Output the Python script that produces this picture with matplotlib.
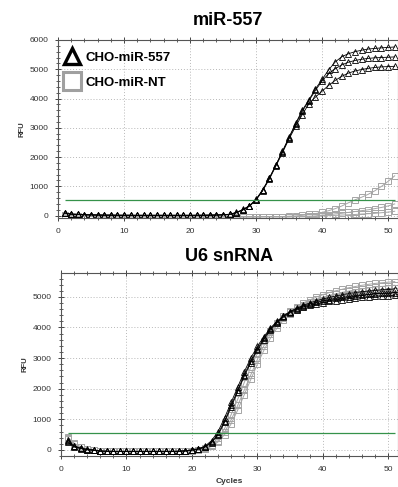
import matplotlib
matplotlib.use("Agg")
import matplotlib.pyplot as plt
from matplotlib.lines import Line2D
from matplotlib.ticker import MultipleLocator

plt.rcParams['font.family'] = ['Liberation Sans', 'DejaVu Sans']

cycles = list(range(1, 52))
threshold = 550

# miR-557 panel, cycles 1-51
base_tri = [90, 50, 40, 30, 25, 20, 15, 15, 10, 10, 10, 5, 5, 5, 5, 5, 5, 5, 5, 5, 10, 10, 15, 20, 30]
mir_tri_a = base_tri + [50, 110, 210, 340, 560, 880, 1280, 1730, 2200, 2680, 3150, 3600, 3950, 4330,
                        4650, 4980, 5250, 5430, 5530, 5600, 5650, 5690, 5710, 5730, 5745, 5760]
mir_tri_b = base_tri + [45, 100, 200, 330, 550, 870, 1270, 1720, 2180, 2660, 3120, 3560, 3920, 4280,
                        4600, 4850, 5020, 5150, 5240, 5300, 5340, 5370, 5390, 5400, 5410, 5420]
mir_tri_c = base_tri + [40, 95, 190, 320, 530, 850, 1240, 1690, 2150, 2620, 3050, 3450, 3820, 4050,
                        4250, 4450, 4620, 4760, 4870, 4940, 4990, 5030, 5060, 5080, 5090, 5100]

base_sq = [20, 0, -20, -30, -30, -40, -40, -40, -40, -40, -40, -40, -40, -40, -40, -40, -40, -40,
           -40, -40, -40, -40, -40, -40, -40, -40, -40, -40, -40, -40]
mir_sq_a = base_sq + [-30, -30, -30, -30, -20, -10, 10, 40, 70, 110, 170, 240, 330, 440,
                      540, 630, 730, 850, 1000, 1170, 1360]
mir_sq_b = base_sq + [-40, -40, -40, -40, -40, -30, -30, -20, -10, 20, 30, 60, 80, 110,
                      140, 170, 200, 240, 280, 330, 400]
mir_sq_c = base_sq + [-40, -40, -40, -40, -40, -40, -40, -40, -30, -10, 0, 10, 20, 30,
                      40, 55, 65, 80, 100, 120, 150]

# U6 snRNA panel, cycles 1-51
u6_tri_1 = [330, 130, 60, 20, 0, -40, -45, -50, -50, -50, -50, -50, -50, -50, -50, -50, -50, -45,
            -30, 0, 40, 120, 300, 600, 1050, 1550, 2050, 2550, 3000, 3380, 3700, 3980, 4200, 4380,
            4520, 4630, 4720, 4800, 4870, 4930, 4980, 5030, 5070, 5110, 5140, 5170, 5190, 5210,
            5230, 5240, 5260]
u6_tri_2 = [280, 110, 50, 10, -10, -40, -45, -50, -50, -50, -50, -50, -50, -50, -50, -50, -50, -45,
            -30, -5, 30, 100, 260, 520, 950, 1450, 1950, 2450, 2900, 3300, 3650, 3950, 4180, 4370,
            4510, 4610, 4690, 4760, 4820, 4870, 4910, 4950, 4980, 5010, 5040, 5060, 5080, 5100,
            5120, 5130, 5140]
u6_tri_3 = [250, 100, 40, 0, -20, -40, -45, -50, -50, -50, -50, -50, -50, -50, -50, -50, -50, -45,
            -35, -10, 20, 90, 240, 480, 900, 1400, 1900, 2400, 2850, 3250, 3600, 3920, 4150, 4340,
            4480, 4580, 4660, 4720, 4770, 4810, 4850, 4880, 4910, 4940, 4960, 4980, 5000, 5020,
            5030, 5040, 5050]
u6_sq_1 = [420, 220, 100, 40, 0, -40, -50, -50, -50, -50, -50, -50, -50, -50, -50, -50, -50, -50,
           -45, -30, 0, 60, 170, 380, 700, 1150, 1650, 2200, 2700, 3150, 3550, 3880, 4150, 4370,
           4540, 4680, 4800, 4900, 4990, 5070, 5140, 5200, 5250, 5300, 5340, 5380, 5410, 5440,
           5460, 5480, 5500]
u6_sq_2 = [380, 200, 90, 30, -10, -40, -50, -50, -50, -50, -50, -50, -50, -50, -50, -50, -50, -50,
           -45, -35, -10, 40, 130, 300, 580, 980, 1450, 1950, 2450, 2950, 3400, 3780, 4080, 4320,
           4500, 4640, 4750, 4840, 4920, 4990, 5050, 5100, 5150, 5190, 5230, 5260, 5290, 5320,
           5340, 5360, 5380]
u6_sq_3 = [350, 180, 80, 20, -10, -40, -50, -50, -50, -50, -50, -50, -50, -50, -50, -50, -50, -50,
           -45, -35, -15, 30, 110, 260, 500, 850, 1300, 1800, 2300, 2800, 3250, 3650, 3980, 4240,
           4430, 4570, 4680, 4770, 4840, 4900, 4950, 4990, 5030, 5060, 5090, 5110, 5130, 5150,
           5170, 5180, 5190]

tri_color = 'black'
sq_color = '#a5a5a5'
green = '#35924a'

fig = plt.figure(figsize=(3.98, 4.87), dpi=100)
ax1 = fig.add_axes([0.1457, 0.5524, 0.8543, 0.3656])
ax2 = fig.add_axes([0.1533, 0.0637, 0.8467, 0.3757])


def style_axis(ax, ylim):
    ax.set_xlim(0, 51.5)
    ax.set_ylim(*ylim)
    ax.xaxis.set_major_locator(MultipleLocator(10))
    ax.xaxis.set_minor_locator(MultipleLocator(2))
    ax.yaxis.set_major_locator(MultipleLocator(1000))
    ax.yaxis.set_minor_locator(MultipleLocator(200))
    ax.grid(True, which='major', color='#b8b8b8', linestyle=(0, (1, 2)), linewidth=0.7)
    ax.tick_params(which='both', direction='inout', top=True, labelsize=6, colors='#444',
                   labelcolor='#333', pad=5)
    ax.tick_params(which='major', length=4, width=0.7)
    ax.tick_params(which='minor', length=2.5, width=0.6)
    for s in ax.spines.values():
        s.set_color('#555')
        s.set_linewidth(0.8)
    ax.set_ylabel('RFU', fontsize=5.5, fontweight='bold', color='#333', labelpad=3)


for y in [mir_sq_a, mir_sq_b, mir_sq_c]:
    ax1.plot(cycles, y, color=sq_color, lw=0.7, marker='s', ms=4.2, mfc='none', mec=sq_color, mew=0.7)
for y in [mir_tri_a, mir_tri_b, mir_tri_c]:
    ax1.plot(cycles, y, color=tri_color, lw=0.6, marker='^', ms=3.8, mfc='none', mec=tri_color, mew=0.6)
ax1.hlines(threshold, 1, 51, color=green, lw=0.9, zorder=5)
style_axis(ax1, (-80, 6000))
ax1.set_title('miR-557', fontsize=13, fontweight='bold', pad=11)

handles = [Line2D([], [], linestyle='none', marker='^', ms=12, mfc='none', mec='black', mew=2.4),
           Line2D([], [], linestyle='none', marker='s', ms=13, mfc='none', mec='#a0a0a0', mew=2.2)]
leg = ax1.legend(handles, ['CHO-miR-557', 'CHO-miR-NT'], loc='upper left', frameon=False,
                 prop={'size': 9.5, 'weight': 'bold'}, handlelength=1.0, handletextpad=0.5,
                 labelspacing=0.95, borderaxespad=0.3, bbox_to_anchor=(-0.005, 0.985))

for y in [u6_sq_1, u6_sq_2, u6_sq_3]:
    ax2.plot(cycles, y, color=sq_color, lw=0.7, marker='s', ms=5, mfc='none', mec=sq_color, mew=0.7)
for y in [u6_tri_1, u6_tri_2, u6_tri_3]:
    ax2.plot(cycles, y, color=tri_color, lw=0.6, marker='^', ms=3.8, mfc='none', mec=tri_color, mew=0.6)
ax2.hlines(threshold, 1, 51, color=green, lw=0.9, zorder=5)
style_axis(ax2, (-200, 5780))
ax2.set_title('U6 snRNA', fontsize=13, fontweight='bold', pad=9)
ax2.set_xlabel('Cycles', fontsize=6, fontweight='bold', color='#333', labelpad=4)

fig.savefig('out.png', dpi=100)
